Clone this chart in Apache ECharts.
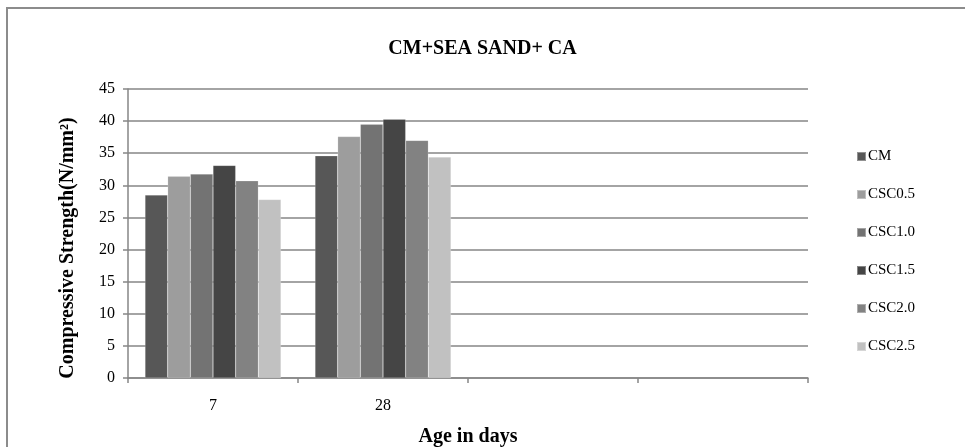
<!DOCTYPE html>
<html>
<head>
<meta charset="utf-8">
<script src="https://cdn.jsdelivr.net/npm/echarts@6/dist/echarts.min.js"></script>
<style>html,body{margin:0;padding:0;background:#fff;}#c{width:965px;height:447px;}</style>
</head>
<body>
<div id="c"></div>
<script>
const categories = ['7', '28', '', ''];
const seriesNames = ['CM', 'CSC0.5', 'CSC1.0', 'CSC1.5', 'CSC2.0', 'CSC2.5'];
const CM     = [28.5, 34.6];
const CSC05  = [31.4, 37.6];
const CSC10  = [31.75, 39.5];
const CSC15  = [33.1, 40.3];
const CSC20  = [30.7, 37.0];
const CSC25  = [27.8, 34.4];
const seriesValues = [CM, CSC05, CSC10, CSC15, CSC20, CSC25];
const colors = ['#575757', '#9d9d9d', '#737373', '#454545', '#828282', '#c1c1c1'];
const yAxisTitle = 'Compressive Strength(N/mm²)';

const font = '"Liberation Serif", "Times New Roman", serif';
const chart = echarts.init(document.getElementById('c'));
chart.setOption({
  animation: false,
  textStyle: { fontFamily: font, color: '#000' },
  title: {
    text: 'CM+SEA SAND+ CA',
    left: 'center',
    top: 34,
    textStyle: { fontFamily: font, fontWeight: 'bold', fontSize: 20, color: '#000' }
  },
  graphic: [{
    type: 'rect',
    shape: { x: 7, y: 8, width: 1000, height: 500 },
    style: { fill: 'none', stroke: '#8c8c8c', lineWidth: 2 },
    silent: true
  }, {
    type: 'text',
    x: 68,
    y: 248,
    rotation: Math.PI / 2,
    style: {
      text: yAxisTitle,
      fontFamily: font, fontWeight: 'bold', fontSize: 20, fill: '#000',
      align: 'center', verticalAlign: 'middle'
    },
    silent: true
  }],
  legend: {
    orient: 'vertical',
    left: 856,
    top: 149,
    padding: 0,
    itemWidth: 9,
    itemHeight: 9,
    itemGap: 23,
    icon: 'rect',
    data: seriesNames,
    textStyle: { fontFamily: font, fontSize: 15, color: '#000', lineHeight: 15, padding: [0, 0, 0, -3] }
  },
  grid: { left: 128, right: 157, top: 89, bottom: 69, containLabel: false, outerBoundsMode: 'none' },
  xAxis: {
    type: 'category',
    data: categories,
    name: 'Age in days',
    nameLocation: 'middle',
    nameGap: 49,
    nameTextStyle: { fontFamily: font, fontWeight: 'bold', fontSize: 20, color: '#000' },
    axisLine: { lineStyle: { color: '#868686', width: 1.5 } },
    axisTick: { show: true, length: 5, lineStyle: { color: '#868686', width: 1.5 } },
    axisLabel: { fontFamily: font, fontSize: 16, color: '#000', margin: 20 },
    splitLine: { show: false }
  },
  yAxis: {
    type: 'value',
    min: 0,
    max: 45,
    interval: 5,
    axisLine: { show: true, lineStyle: { color: '#868686', width: 1.5 } },
    axisTick: { show: true, length: 5, lineStyle: { color: '#868686', width: 1.5 } },
    axisLabel: { fontFamily: font, fontSize: 16, color: '#000', margin: 13 },
    splitLine: { show: true, lineStyle: { color: '#868686', width: 1.5 } }
  },
  series: seriesNames.map((n, i) => ({
    name: n,
    type: 'bar',
    data: seriesValues[i],
    barGap: '0%',
    barCategoryGap: '20%',
    itemStyle: { color: colors[i], borderColor: 'rgba(255,255,255,0.35)', borderWidth: 0.5 }
  }))
});
</script>
</body>
</html>
